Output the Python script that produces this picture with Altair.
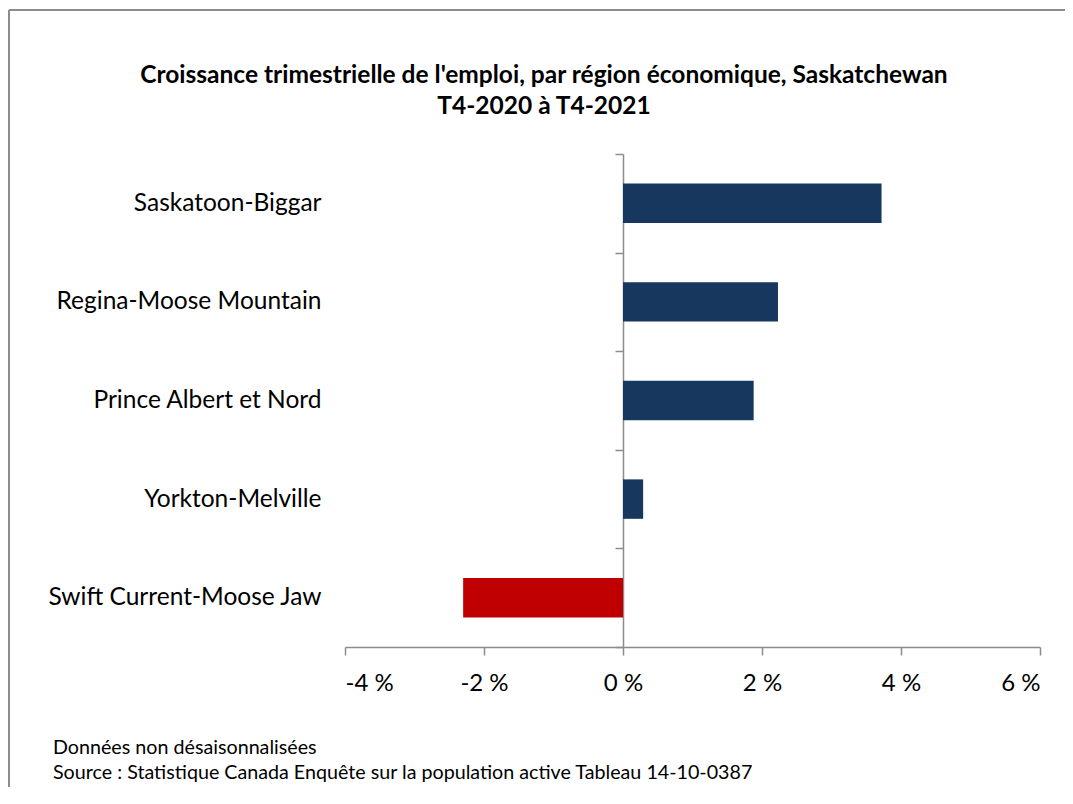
import altair as alt
import pandas as pd

regions = ["Saskatoon-Biggar", "Regina-Moose Mountain", "Prince Albert et Nord",
           "Yorkton-Melville", "Swift Current-Moose Jaw"]
growth = [3.72, 2.23, 1.88, 0.29, -2.30]
x_ticks = [-4, -2, 0, 2, 4, 6]
title_lines = "Croissance trimestrielle de l'emploi, par région économique, Saskatchewan\nT4-2020 à T4-2021"
footer_lines = "Données non désaisonnalisées\nSource : Statistique Canada Enquête sur la population active Tableau 14-10-0387"

df = pd.DataFrame({"region": regions, "value": growth})

FONT = "Lato"
GRAY = "#8c8c8c"
W, H = 695, 493
PL, PT, PR, PB = 337, 146, 25, 140

bars = alt.Chart(df).mark_bar(height={"band": 0.4}).encode(
    y=alt.Y("region:N", sort=regions, title=None,
            scale=alt.Scale(paddingInner=0, paddingOuter=0),
            axis=alt.Axis(orient="left", offset=-278, domainColor=GRAY, domainWidth=1.5,
                          tickColor=GRAY, tickWidth=1.5, tickSize=8, tickBand="extent",
                          labelPadding=294, labelLimit=400, labelFont=FONT,
                          labelFontSize=24.5, labelColor="#000000")),
    x=alt.X("value:Q", title=None,
            scale=alt.Scale(domain=[-4, 6], nice=False),
            axis=alt.Axis(values=x_ticks, labelExpr="datum.value + ' %'",
                          grid=False, domainColor=GRAY, domainWidth=1.5,
                          tickColor=GRAY, tickWidth=1.5, tickSize=8,
                          labelPadding=16, labelFont=FONT, labelFontSize=24,
                          labelColor="#000000")),
    color=alt.condition(alt.datum.value < 0, alt.value("#C00000"), alt.value("#17375E")),
)

frame_df = pd.DataFrame({"k": [0]})
left_border = alt.Chart(frame_df).mark_rule(color=GRAY, strokeWidth=2).encode(
    x=alt.value(-336), y=alt.value(-144), y2=alt.value(H + PB))
top_border = alt.Chart(frame_df).mark_rule(color=GRAY, strokeWidth=2).encode(
    x=alt.value(-336), x2=alt.value(W + PR), y=alt.value(-144))

title = alt.Chart(pd.DataFrame({"t": [title_lines]})).mark_text(
    align="center", baseline="alphabetic", font=FONT, fontSize=24.5, fontWeight="bold",
    lineBreak="\n", lineHeight=31, color="#000000"
).encode(text="t:N", x=alt.value(199), y=alt.value(-71))

footer = alt.Chart(pd.DataFrame({"t": [footer_lines]})).mark_text(
    align="left", baseline="alphabetic", font=FONT, fontSize=19.7,
    lineBreak="\n", lineHeight=25, color="#000000"
).encode(text="t:N", x=alt.value(-292), y=alt.value(600))

chart = alt.layer(bars, left_border, top_border, title, footer).properties(
    width=W, height=H,
    padding={"left": PL, "top": PT, "right": PR, "bottom": PB},
    autosize=alt.AutoSizeParams(type="none"),
).configure_view(stroke=None)

chart.save("out.html", embed_options={"renderer": "svg", "actions": False})
